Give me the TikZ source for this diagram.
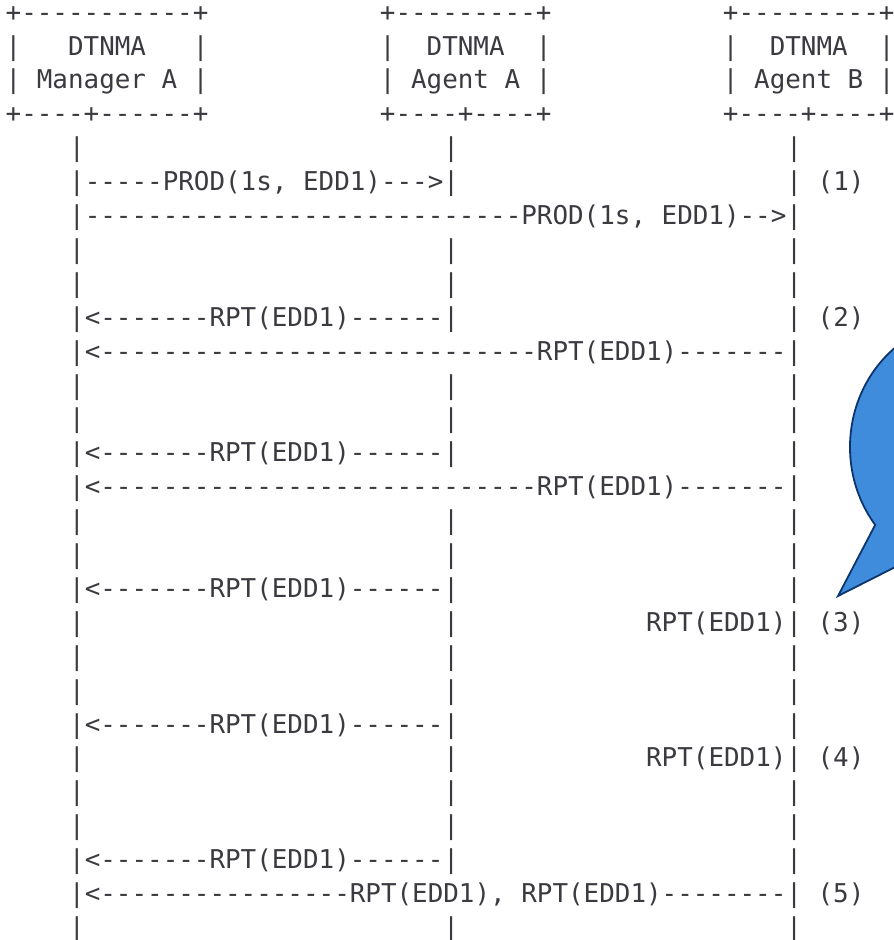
\documentclass[tikz,border=0pt]{standalone}
\usepackage{fontspec}
\setmonofont{DejaVu Sans Mono}
\definecolor{ink}{RGB}{58,58,64}
\definecolor{bubblefill}{RGB}{62,140,219}
\definecolor{bubbleline}{RGB}{14,52,110}
\newcommand\sk[1]{\hspace*{#1\fontcharwd\font`M}}
\tikzset{
  ln/.style={anchor=base west, inner sep=0pt, outer sep=0pt, text=ink,
    font=\ttfamily\fontsize{25.9}{33.9}\selectfont},
  bubble/.style={fill=bubblefill, draw=bubbleline, line width=1.8pt, line join=miter}
}
\begin{document}
\begin{tikzpicture}[x=1pt,y=-1pt]
\useasboundingbox (0,0) rectangle (894,940);
% header boxes
\node[ln] (h0) at (5.7,21.1) {+-----------+\sk{11}+---------+\sk{11}+---------+};
\node[ln] (h1) at (5.7,55) {|\sk{3}DTNMA\sk{3}|\sk{11}|\sk{2}DTNMA\sk{2}|\sk{11}|\sk{2}DTNMA\sk{2}|};
\node[ln] (h2) at (5.7,88.9) {|\sk{1}Manager\sk{1}A\sk{1}|\sk{11}|\sk{1}Agent\sk{1}A\sk{1}|\sk{11}|\sk{1}Agent\sk{1}B\sk{1}|};
\node[ln] (h3) at (5.7,122.8) {+----+------+\sk{11}+----+----+\sk{11}+----+----+};
% body
\node[ln] (b4) at (69.2,156.7) {|\sk{23}|\sk{21}|};
\node[ln] (b5) at (69.2,190.6) {|-----PROD(1s,\sk{1}EDD1)--->|\sk{21}|\sk{1}(1)};
\node[ln] (b6) at (69.2,224.5) {|----------------------------PROD(1s,\sk{1}EDD1)-->|};
\node[ln] (b7) at (69.2,258.4) {|\sk{23}|\sk{21}|};
\node[ln] (b8) at (69.2,292.3) {|\sk{23}|\sk{21}|};
\node[ln] (b9) at (69.2,326.2) {|<-------RPT(EDD1)------|\sk{21}|\sk{1}(2)};
\node[ln] (b10) at (69.2,360.1) {|<----------------------------RPT(EDD1)-------|};
\node[ln] (b11) at (69.2,394) {|\sk{23}|\sk{21}|};
\node[ln] (b12) at (69.2,427.9) {|\sk{23}|\sk{21}|};
\node[ln] (b13) at (69.2,461.8) {|<-------RPT(EDD1)------|\sk{21}|};
\node[ln] (b14) at (69.2,495.7) {|<----------------------------RPT(EDD1)-------|};
\node[ln] (b15) at (69.2,529.6) {|\sk{23}|\sk{21}|};
\node[ln] (b16) at (69.2,563.5) {|\sk{23}|\sk{21}|};
\node[ln] (b17) at (69.2,597.4) {|<-------RPT(EDD1)------|\sk{21}|};
\node[ln] (b18) at (69.2,631.3) {|\sk{23}|\sk{12}RPT(EDD1)|\sk{1}(3)};
\node[ln] (b19) at (69.2,665.2) {|\sk{23}|\sk{21}|};
\node[ln] (b20) at (69.2,699.1) {|\sk{23}|\sk{21}|};
\node[ln] (b21) at (69.2,733) {|<-------RPT(EDD1)------|\sk{21}|};
\node[ln] (b22) at (69.2,766.9) {|\sk{23}|\sk{12}RPT(EDD1)|\sk{1}(4)};
\node[ln] (b23) at (69.2,800.8) {|\sk{23}|\sk{21}|};
\node[ln] (b24) at (69.2,834.7) {|\sk{23}|\sk{21}|};
\node[ln] (b25) at (69.2,868.6) {|<-------RPT(EDD1)------|\sk{21}|};
\node[ln] (b26) at (69.2,902.5) {|<----------------RPT(EDD1),\sk{1}RPT(EDD1)--------|\sk{1}(5)};
\node[ln] (b27) at (69.2,936.4) {|\sk{23}|\sk{21}|};
% speech bubble
\begin{scope}
\clip (0,0) rectangle (894,940);
\filldraw[bubble] (875.2,524.9) arc[start angle=142.5, end angle=479.4, x radius=122, y radius=128] -- (838,596) -- cycle;
\end{scope}
\end{tikzpicture}
\end{document}
